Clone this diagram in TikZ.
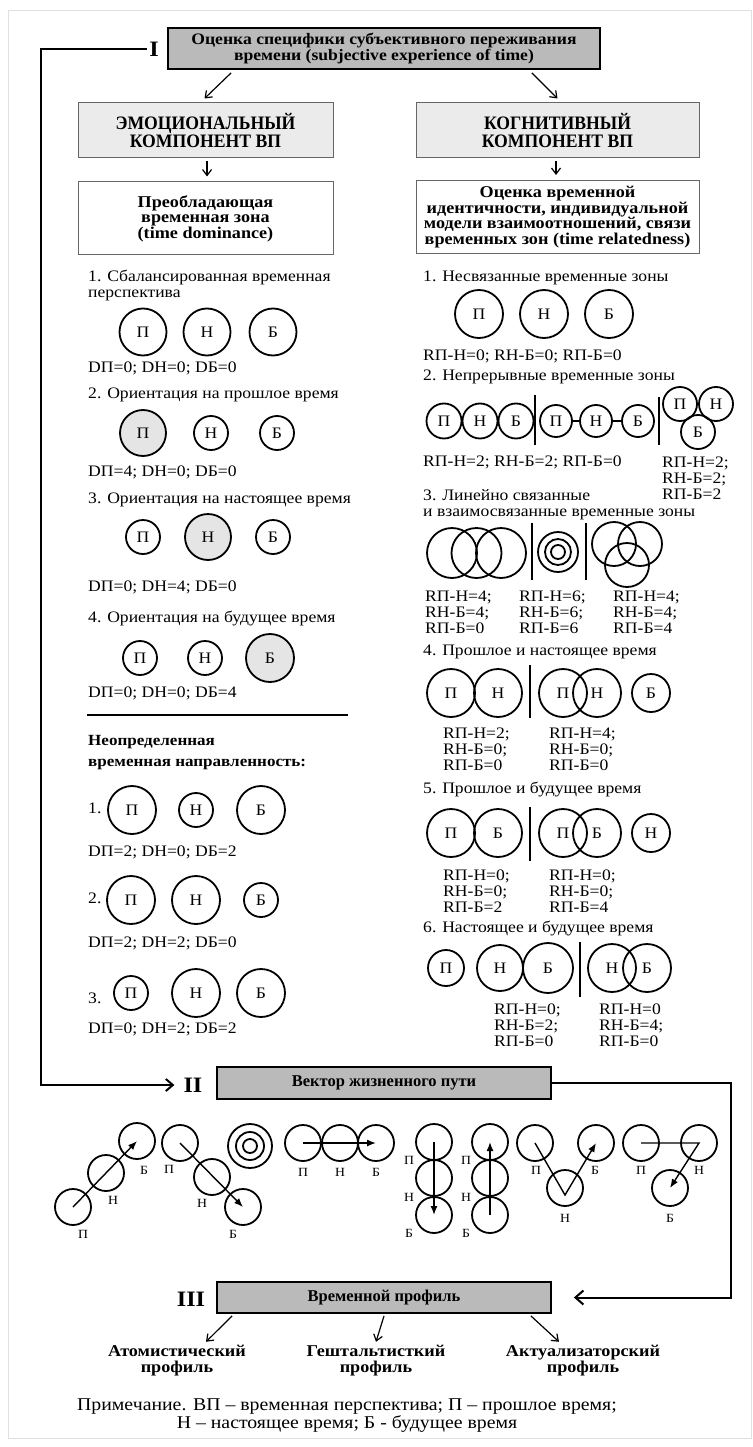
\documentclass[tikz,border=0pt]{standalone}
\usepackage{fontspec}
\setmainfont{Liberation Serif}[FakeStretch=1.1]
\newfontfamily\narrowrm{Liberation Serif}[FakeStretch=0.93]
\newfontfamily\plainrm{Liberation Serif}
\usetikzlibrary{arrows.meta}

\begin{document}
\begin{tikzpicture}[x=1pt, y=-1pt,
  body/.style={font=\fontsize{16}{16}\selectfont},
  txt/.style={body, anchor=west, inner sep=0, align=left},
  headfont/.style={font=\fontsize{16.5}{15.5}\selectfont\bfseries, align=center},
  boxdark/.style={font=\fontsize{16}{15.5}\selectfont\bfseries, align=center, draw, line width=1.8, fill=black!27, inner sep=0},
  boxlight/.style={draw=black!60, line width=1, fill=black!8, inner sep=0, align=center, font=\narrowrm\fontsize{19}{18}\selectfont\bfseries},
  boxplain/.style={headfont, draw=black!60, line width=1, inner sep=0},
  numeral/.style={font=\fontsize{22}{22}\selectfont\bfseries, inner sep=2},
  zone/.style={circle, draw, line width=1.8, inner sep=0, minimum size=#1, body},
  zonefill/.style={zone=#1, fill=black!10},
  vzone/.style={circle, draw, line width=1.8, inner sep=0, minimum size=36},
  vlab/.style={font=\fontsize{12.5}{12.5}\selectfont, inner sep=0},
  arr/.style={line width=1.2, -{Straight Barb[length=6pt, width=9pt]}},
  loopline/.style={line width=2},
  varr/.style={line width=1.4, -{Latex[length=9pt, width=7pt]}},
  divider/.style={line width=1.6},
]
\useasboundingbox (0,0) rectangle (752,1447);
\draw[black!12, line width=0.8] (8,10) rectangle (751,1438);

\node[boxdark, minimum width=432, minimum height=41] (spec) at (384,48.5) {Оценка специфики субъективного переживания\\времени (subjective experience of time)};
\node[numeral] (ione) at (154,49) {I};
\node[boxlight, minimum width=255, minimum height=55] (emo) at (205.5,130.5) {ЭМОЦИОНАЛЬНЫЙ\\КОМПОНЕНТ ВП};
\node[boxlight, minimum width=283, minimum height=55] (cog) at (557.5,130.5) {КОГНИТИВНЫЙ\\КОМПОНЕНТ ВП};
\node[boxplain, minimum width=255, minimum height=73] (dom) at (205.5,218.5) {Преобладающая\\временная зона\\(time dominance)};
\node[boxplain, minimum width=283, minimum height=73] (relb) at (557.5,217) {Оценка временной\\идентичности, индивидуальной\\модели взаимоотношений, связи\\временных зон (time relatedness)};
\draw[arr] ([shift={(64,3)}]spec.south west) -- ([shift={(127,-4)}]emo.north west);
\draw[arr] ([shift={(-69,3)}]spec.south east) -- ([shift={(142,-4)}]cog.north west);
\draw[arr] ([shift={(1.5,3)}]emo.south) -- ([shift={(1.5,-5)}]dom.north);
\draw[arr] ([shift={(-1.5,3)}]cog.south) -- ([shift={(-1.5,-5)}]relb.north);

\node[txt] (l1t) at (88,285.5) {1. Сбалансированная временная\\перспектива};
\node[zone=47] (l1p) at (143,332) {П};
\node[zone=47] (l1n) at (207,332) {Н};
\node[zone=47] (l1b) at (273,332) {Б};
\node[txt] (l1d) at (88,368) {DП=0; DН=0; DБ=0};
\node[txt] (l2t) at (88,395) {2. Ориентация на прошлое время};
\node[zonefill=46] (l2p) at (143,433) {П};
\node[zone=34] (l2n) at (211,433) {Н};
\node[zone=34] (l2b) at (277,433) {Б};
\node[txt] (l2d) at (88,472) {DП=4; DН=0; DБ=0};
\node[txt] (l3t) at (88,500) {3. Ориентация на настоящее время};
\node[zone=34] (l3p) at (143,537) {П};
\node[zonefill=46] (l3n) at (208,537) {Н};
\node[zone=34] (l3b) at (273,537) {Б};
\node[txt] (l3d) at (88,587) {DП=0; DН=4; DБ=0};
\node[txt] (l4t) at (88,618) {4. Ориентация на будущее время};
\node[zone=34] (l4p) at (140,658) {П};
\node[zone=34] (l4n) at (205,658) {Н};
\node[zonefill=48] (l4b) at (270,658) {Б};
\node[txt] (l4d) at (88,693) {DП=0; DН=0; DБ=4};
\draw[divider] (87,715) -- (348,715);
\node[txt, font=\fontsize{15.5}{21}\selectfont\bfseries] (vague) at (88,752.5) {Неопределенная\\временная направленность:};
\node[txt] (u1t) at (88,808) {1.};
\node[zone=48] (u1p) at (132,810) {П};
\node[zone=34] (u1n) at (196,810) {Н};
\node[zone=48] (u1b) at (261,810) {Б};
\node[txt] (u1d) at (88,852) {DП=2; DН=0; DБ=2};
\node[txt] (u2t) at (88,898) {2.};
\node[zone=48] (u2p) at (131,900) {П};
\node[zone=48] (u2n) at (196,900) {Н};
\node[zone=34] (u2b) at (261,900) {Б};
\node[txt] (u2d) at (88,943) {DП=2; DН=2; DБ=0};
\node[txt] (u3t) at (88,998) {3.};
\node[zone=34] (u3p) at (131,993) {П};
\node[zone=48] (u3n) at (196,993) {Н};
\node[zone=48] (u3b) at (261,993) {Б};
\node[txt] (u3d) at (88,1029) {DП=0; DН=2; DБ=2};

\node[txt] (r1t) at (423,278) {1. Несвязанные временные зоны};
\node[zone=48] (r1p) at (479,314) {П};
\node[zone=48] (r1n) at (544,314) {Н};
\node[zone=48] (r1b) at (609,314) {Б};
\node[txt] (r1d) at (423,356) {RП-Н=0; RН-Б=0; RП-Б=0};
\node[txt] (r2t) at (423,377) {2. Непрерывные временные зоны};
\node[zone=35] (r2p) at (444,421) {П};
\node[zone=35] (r2n) at (480,421) {Н};
\node[zone=35] (r2b) at (516,421) {Б};
\draw[divider] (535,395) -- (535,445);
\node[zone=32] (r2q) at (556,421) {П};
\node[zone=32] (r2m) at (596,421) {Н};
\node[zone=32] (r2c) at (638,421) {Б};
\draw[line width=1.6] (r2q.east) -- (r2m.west);
\draw[line width=1.6] (r2m.east) -- (r2c.west);
\draw[divider] (659,397) -- (659,445);
\node[zone=34] (r2x) at (680,404) {П};
\node[zone=34] (r2y) at (716,404) {Н};
\node[zone=34] (r2z) at (698,432) {Б};
\node[txt] (r2d) at (423,462) {RП-Н=2; RН-Б=2; RП-Б=0};
\node[txt] (r2e) at (662,478.5) {RП-Н=2;\\RН-Б=2;\\RП-Б=2};
\node[txt] (r3t) at (423,504.5) {3. Линейно связанные\\и взаимосвязанные временные зоны};
\node[zone=50] (r3p) at (452,553) {};
\node[zone=50] (r3n) at (476.5,553) {};
\node[zone=50] (r3b) at (501,553) {};
\draw[divider] (532,523) -- (532,580);
\node[zone=40] (r3co) at (558,552) {};
\node[zone=26] (r3cm) at (558,552) {};
\node[zone=14] (r3ci) at (558,552) {};
\draw[divider] (586,523) -- (586,580);
\node[zone=44] (r3x) at (614,544) {};
\node[zone=44] (r3y) at (640,544) {};
\node[zone=44] (r3z) at (627,565) {};
\node[txt] (r3d) at (425,612) {RП-Н=4;\\RН-Б=4;\\RП-Б=0};
\node[txt] (r3e) at (519,612) {RП-Н=6;\\RН-Б=6;\\RП-Б=6};
\node[txt] (r3f) at (613,612) {RП-Н=4;\\RН-Б=4;\\RП-Б=4};
\node[txt] (r4t) at (423,652) {4. Прошлое и настоящее время};
\node[zone=48] (r4p) at (451,693) {П};
\node[zone=48] (r4n) at (498,693) {Н};
\draw[divider] (530,665) -- (530,718);
\node[zone=48] (r4q) at (563,693) {П};
\node[zone=48] (r4m) at (597,693) {Н};
\node[zone=38] (r4c) at (651,693) {Б};
\node[txt] (r4d) at (443,749) {RП-Н=2;\\RН-Б=0;\\RП-Б=0};
\node[txt] (r4e) at (549,749) {RП-Н=4;\\RН-Б=0;\\RП-Б=0};
\node[txt] (r5t) at (423,789) {5. Прошлое и будущее время};
\node[zone=48] (r5p) at (451,833) {П};
\node[zone=48] (r5b) at (498,833) {Б};
\draw[divider] (530,807) -- (530,861);
\node[zone=48] (r5q) at (563,833) {П};
\node[zone=48] (r5c) at (597,833) {Б};
\node[zone=38] (r5m) at (651,833) {Н};
\node[txt] (r5d) at (443,891) {RП-Н=0;\\RН-Б=0;\\RП-Б=2};
\node[txt] (r5e) at (549,891) {RП-Н=0;\\RН-Б=0;\\RП-Б=4};
\node[txt] (r6t) at (423,928) {6. Настоящее и будущее время};
\node[zone=36] (r6p) at (446,968) {П};
\node[zone=46] (r6n) at (500,968) {Н};
\node[zone=50] (r6b) at (548,968) {Б};
\draw[divider] (580,942) -- (580,997);
\node[zone=48] (r6m) at (612,968) {Н};
\node[zone=48] (r6c) at (647,968) {Б};
\node[txt] (r6d) at (494,1025.5) {RП-Н=0;\\RН-Б=2;\\RП-Б=0};
\node[txt] (r6e) at (599,1025.5) {RП-Н=0\\RН-Б=4;\\RП-Б=0};

\node[numeral] (itwo) at (193,1085) {II};
\node[boxdark, font=\plainrm\fontsize{16.5}{16}\selectfont\bfseries, minimum width=334, minimum height=32] (vec) at (384,1083) {Вектор жизненного пути};
\coordinate (lcorner) at (41,1085);
\draw[loopline, -{Straight Barb[length=7pt, width=12pt]}] (ione.west) -| (lcorner) -- ([shift={(-7,0)}]itwo.west);

\node[vzone] (v1p) at (73,1207) {};
\node[vzone] (v1n) at (106,1173) {};
\node[vzone] (v1b) at (137,1141) {};
\draw[varr] (v1p.center) -- (v1b.center);
\node[vlab] (v1pl) at (83,1234) {П};
\node[vlab] (v1nl) at (113,1200) {Н};
\node[vlab] (v1bl) at (144,1170) {Б};
\node[vzone] (v2p) at (180,1143) {};
\node[vzone] (v2n) at (212,1177) {};
\node[vzone] (v2b) at (243,1207) {};
\draw[varr] (v2p.center) -- (v2b.center);
\node[vlab] (v2pl) at (169,1169) {П};
\node[vlab] (v2nl) at (202,1203) {Н};
\node[vlab] (v2bl) at (233,1234) {Б};
\node[zone=44] (vco) at (250,1146) {};
\node[zone=28] (vcm) at (250,1146) {};
\node[zone=14] (vci) at (250,1146) {};
\node[vzone] (v3p) at (303,1143) {};
\node[vzone] (v3n) at (340,1143) {};
\node[vzone] (v3b) at (376,1143) {};
\draw[varr] (v3p.center) -- (v3b.center);
\node[vlab] (v3pl) at (303,1172) {П};
\node[vlab] (v3nl) at (340,1172) {Н};
\node[vlab] (v3bl) at (376,1172) {Б};
\node[vzone] (v4p) at (434,1142) {};
\node[vzone] (v4n) at (434,1178) {};
\node[vzone] (v4b) at (434,1215) {};
\draw[varr] (v4p.center) -- (v4b.center);
\node[vlab] (v4pl) at (409,1160) {П};
\node[vlab] (v4nl) at (409,1197) {Н};
\node[vlab] (v4bl) at (409,1233) {Б};
\node[vzone] (v5p) at (490,1142) {};
\node[vzone] (v5n) at (490,1178) {};
\node[vzone] (v5b) at (490,1215) {};
\draw[varr] (v5b.center) -- (v5p.center);
\node[vlab] (v5pl) at (466,1160) {П};
\node[vlab] (v5nl) at (466,1197) {Н};
\node[vlab] (v5bl) at (466,1233) {Б};
\node[vzone] (v6p) at (535,1143) {};
\node[vzone] (v6n) at (565,1188) {};
\node[vzone] (v6b) at (596,1143) {};
\draw[varr] (v6p.center) -- ([shift={(0,7)}]v6n.center) -- (v6b.center);
\node[vlab] (v6pl) at (536,1170) {П};
\node[vlab] (v6bl) at (595,1170) {Б};
\node[vlab] (v6nl) at (565,1218) {Н};
\node[vzone] (v7p) at (641,1143) {};
\node[vzone] (v7n) at (699,1143) {};
\node[vzone] (v7b) at (670,1188) {};
\draw[varr] (v7p.center) -- (v7n.center) -- (v7b.center);
\node[vlab] (v7pl) at (641,1170) {П};
\node[vlab] (v7nl) at (699,1170) {Н};
\node[vlab] (v7bl) at (670,1218) {Б};

\node[numeral] (ithree) at (191,1299) {III};
\node[boxdark, font=\plainrm\fontsize{16.5}{16}\selectfont\bfseries, minimum width=334, minimum height=31] (prof) at (384,1297.5) {Временной профиль};
\coordinate (rtop) at (731,1083);
\coordinate (rbot) at (731,1297.5);
\draw[loopline, -{Straight Barb[length=8pt, width=14pt]}] (vec.east) -- (rtop) -- (rbot) -- ([shift={(22,0)}]prof.east);
\node[headfont] (atom) at (177,1360.5) {Атомистический\\профиль};
\node[headfont] (gesh) at (376,1360.5) {Гештальтисткий\\профиль};
\node[headfont] (actu) at (583,1360.5) {Актуализаторский\\профиль};
\draw[arr] ([shift={(16,2)}]prof.south west) -- ([shift={(29,0)}]atom.north);
\draw[arr] ([shift={(0,2)}]prof.south) -- (gesh.north);
\draw[arr] ([shift={(-21,2)}]prof.south east) -- ([shift={(-24,0)}]actu.north);
\node[font=\fontsize{18}{18}\selectfont, align=center] (note) at (347,1416) {Примечание. ВП – временная перспектива; П – прошлое время;\\Н – настоящее время; Б - будущее время};
\end{tikzpicture}
\end{document}
